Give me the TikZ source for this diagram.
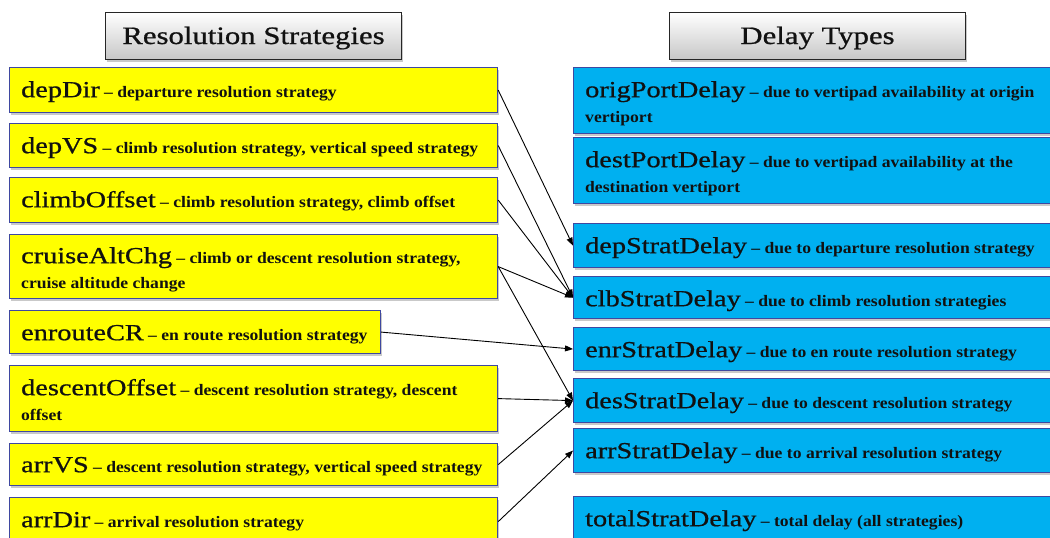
\documentclass[tikz,border=0pt]{standalone}
\usepackage{fontspec}
\setmainfont{Liberation Serif}
\newfontfamily\bigfam{Liberation Serif}[FakeStretch=1.23,FakeBold=0.8]
\newfontfamily\descfam{Liberation Serif}[FakeStretch=1.1]
\usetikzlibrary{arrows.meta,shadows}
\definecolor{yfill}{HTML}{FFFF00}
\definecolor{bfill}{HTML}{00B0F0}
\definecolor{bord}{HTML}{3F48A0}
\definecolor{txtc}{HTML}{111111}
\newcommand{\kw}[1]{{\bigfam\mdseries\fontsize{23}{25}\selectfont #1}}
\newcommand{\st}{\rule{0pt}{20pt}}
\tikzset{
  boxbase/.style={draw=bord, line width=1.2pt, anchor=north west, inner sep=0,
    drop shadow={shadow xshift=1.5pt, shadow yshift=-2pt, opacity=0.3, fill=black!70}},
  ybox/.style={boxbase, fill=yfill},
  bbox/.style={boxbase, fill=bfill},
  txt/.style={anchor=north west, inner sep=0, align=left, text=txtc,
    font=\descfam\bfseries\fontsize{16}{25}\selectfont},
  titlebox/.style={draw=black!85, line width=1pt, top color=white, bottom color=black!22,
    minimum width=296pt, minimum height=47pt, inner sep=0,
    text height=16pt, text depth=0pt, text=txtc,
    font=\bigfam\fontsize{25}{28}\selectfont,
    drop shadow={shadow xshift=1.5pt, shadow yshift=-2pt, opacity=0.3, fill=black!70}},
  conn/.style={draw=black, line width=0.9pt, -{Triangle[length=8pt,width=6pt]}}
}
\begin{document}
\begin{tikzpicture}[x=1pt,y=-1pt]
\useasboundingbox (0,0) rectangle (1050,538);
\clip (0,0) rectangle (1050,538);
% titles
\node[titlebox] (resTitle) at (253.5,36) {Resolution Strategies};
\node[titlebox] (delTitle) at (817.5,36) {Delay Types};
% left boxes
\node[ybox, minimum width=488pt, minimum height=45pt] (depDir) at (9,67) {};
\node[ybox, minimum width=488pt, minimum height=44pt] (depVS) at (9,123) {};
\node[ybox, minimum width=488pt, minimum height=45pt] (climbOffset) at (9,177) {};
\node[ybox, minimum width=488pt, minimum height=64pt] (cruiseAltChg) at (9,234) {};
\node[ybox, minimum width=371pt, minimum height=43pt] (enrouteCR) at (9,310) {};
\node[ybox, minimum width=488pt, minimum height=66pt] (descentOffset) at (9,365) {};
\node[ybox, minimum width=488pt, minimum height=42pt] (arrVS) at (9,443) {};
\node[ybox, minimum width=488pt, minimum height=48pt] (arrDir) at (9,497) {};
% left texts
\node[txt] (depDirT) at (21,77) {\st\kw{depDir} – departure resolution strategy};
\node[txt] (depVST) at (21,133) {\st\kw{depVS} – climb resolution strategy, vertical speed strategy};
\node[txt] (climbOffsetT) at (21,187) {\st\kw{climbOffset} – climb resolution strategy, climb offset};
\node[txt] (cruiseAltChgT) at (21,243) {\st\kw{cruiseAltChg} – climb or descent resolution strategy,\\ cruise altitude change};
\node[txt] (enrouteCRT) at (21,320) {\st\kw{enrouteCR} – en route resolution strategy};
\node[txt] (descentOffsetT) at (21,375) {\st\kw{descentOffset} – descent resolution strategy, descent\\ offset};
\node[txt] (arrVST) at (21,452) {\st\kw{arrVS} – descent resolution strategy, vertical speed strategy};
\node[txt] (arrDirT) at (21,507) {\st\kw{arrDir} – arrival resolution strategy};
% right boxes
\node[bbox, minimum width=490pt, minimum height=66pt] (origPortDelay) at (573,67) {};
\node[bbox, minimum width=490pt, minimum height=66pt] (destPortDelay) at (573,137) {};
\node[bbox, minimum width=490pt, minimum height=44pt] (depStratDelay) at (573,223) {};
\node[bbox, minimum width=490pt, minimum height=42pt] (clbStratDelay) at (573,276) {};
\node[bbox, minimum width=490pt, minimum height=43pt] (enrStratDelay) at (573,327) {};
\node[bbox, minimum width=490pt, minimum height=44pt] (desStratDelay) at (573,378) {};
\node[bbox, minimum width=490pt, minimum height=44pt] (arrStratDelay) at (573,428) {};
\node[bbox, minimum width=490pt, minimum height=50pt] (totalStratDelay) at (573,496) {};
% right texts
\node[txt] (origPortDelayT) at (585,77) {\st\kw{origPortDelay} – due to vertipad availability at origin\\ vertiport};
\node[txt] (destPortDelayT) at (585,147) {\st\kw{destPortDelay} – due to vertipad availability at the\\ destination vertiport};
\node[txt] (depStratDelayT) at (585,233) {\st\kw{depStratDelay} – due to departure resolution strategy};
\node[txt] (clbStratDelayT) at (585,286) {\st\kw{clbStratDelay} – due to climb resolution strategies};
\node[txt] (enrStratDelayT) at (585,337) {\st\kw{enrStratDelay} – due to en route resolution strategy};
\node[txt] (desStratDelayT) at (585,388) {\st\kw{desStratDelay} – due to descent resolution strategy};
\node[txt] (arrStratDelayT) at (585,438) {\st\kw{arrStratDelay} – due to arrival resolution strategy};
\node[txt] (totalStratDelayT) at (585,506) {\st\kw{totalStratDelay} – total delay (all strategies)};
% connectors
\draw[conn] (depDir.east) -- (depStratDelay.west);
\draw[conn] (depVS.east) -- (clbStratDelay.west);
\draw[conn] (climbOffset.east) -- (clbStratDelay.west);
\draw[conn] (cruiseAltChg.east) -- (clbStratDelay.west);
\draw[conn] (cruiseAltChg.east) -- (desStratDelay.west);
\draw[conn] (enrouteCR.east) -- (enrStratDelay.west);
\draw[conn] (descentOffset.east) -- (desStratDelay.west);
\draw[conn] (arrVS.east) -- (desStratDelay.west);
\draw[conn] (arrDir.east) -- (arrStratDelay.west);
\end{tikzpicture}
\end{document}
